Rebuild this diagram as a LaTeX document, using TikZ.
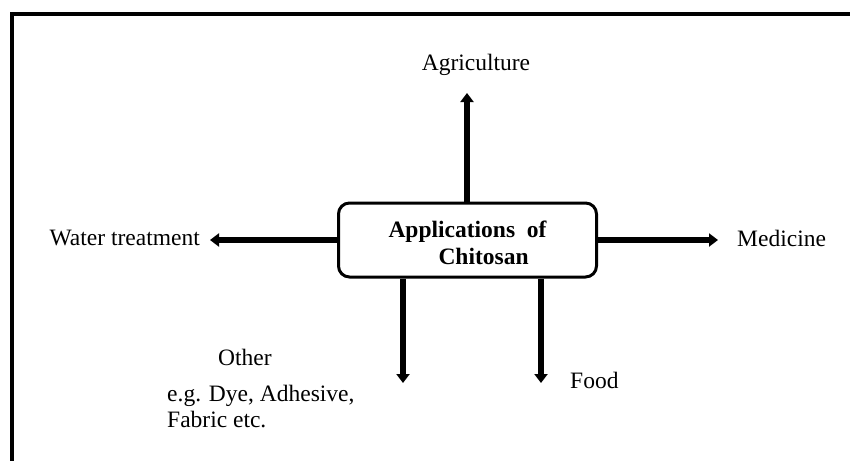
\documentclass[tikz,border=0pt]{standalone}
\usepackage{fontspec}
\setmainfont{Liberation Serif}
\usetikzlibrary{arrows.meta}
\begin{document}
\begin{tikzpicture}[x=1pt,y=-1pt,
  lbl/.style={font=\fontsize{23.5}{26}\selectfont, inner sep=0pt},
  arr/.style={line width=5.5pt, -{Triangle[length=9pt,width=13pt]}},
  hub/.style={draw, line width=3pt, rounded corners=11pt, minimum width=258pt, minimum height=74pt, inner sep=0pt, align=left, font=\fontsize{23.5}{27}\selectfont\bfseries}]
\useasboundingbox (0,0) rectangle (850,460);
\draw[line width=4pt] (12,464) -- (12,14) -- (854,14);
\node[hub] (c) at (467.5,240) {\rule{0pt}{23pt}Applications\ \ of\\\hspace*{50pt}Chitosan};
\coordinate (agE) at (467,93);
\coordinate (wtE) at (210,240);
\coordinate (meE) at (718,240);
\coordinate (otE) at (403,383);
\coordinate (foE) at (541,383);
\draw[arr] (c.north -| agE) -- (agE);
\draw[arr] (c.west) -- (wtE);
\draw[arr] (c.east) -- (meE);
\draw[arr] (c.south -| otE) -- (otE);
\draw[arr] (c.south -| foE) -- (foE);
\node[lbl] (ag) at (476,65) {Agriculture};
\node[lbl, anchor=east] (wt) at (200,238) {Water treatment};
\node[lbl, anchor=west] (me) at (737,238) {Medicine};
\node[lbl, anchor=west] (fo) at (570,380) {Food};
\node[lbl, anchor=north west, align=left] (ot) at (167,349) {\hspace*{51pt}Other\\[10pt]e.g. Dye, Adhesive,\\Fabric etc.};
\end{tikzpicture}
\end{document}
